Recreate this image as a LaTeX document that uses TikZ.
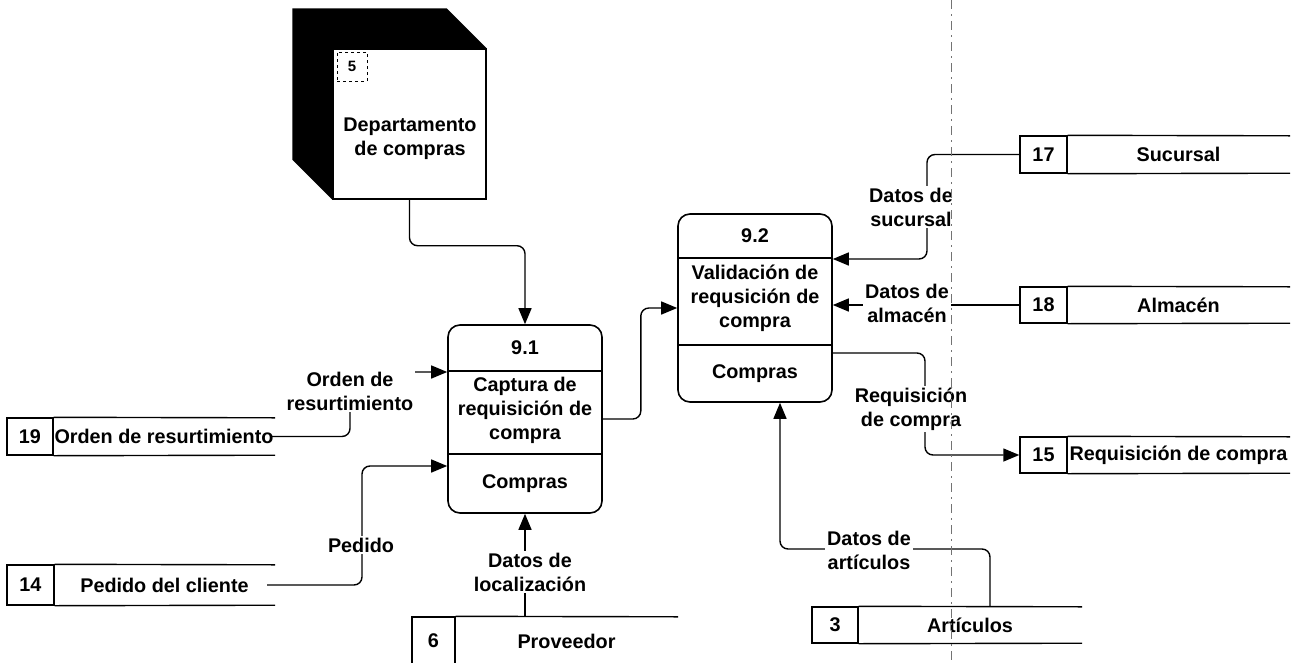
\documentclass[tikz,border=0pt]{standalone}
\usepackage{fontspec}
\setmainfont{Liberation Sans}
\usetikzlibrary{arrows.meta}
\newcommand{\dstore}[8]{%
  \node[numbox, minimum width={#3-#2}, minimum height={#6-#5}] (#1n) at ({(#2+#3)/2},{(#5+#6)/2}) {#7};
  \node[storetext, minimum width={#4-#3}, minimum height={#6-#5}] (#1t) at ({(#3+#4)/2},{(#5+#6)/2}) {#8};
  \draw[storeline] (#1n.north east) -- (#1t.north east) (#1n.south east) -- (#1t.south east);
}
\begin{document}
\begin{tikzpicture}[x=1pt,y=-1pt,
  every node/.style={font=\fontsize{19.8}{24}\selectfont\bfseries},
  proc/.style={draw, line width=1.6pt, rounded corners=12pt, minimum width=154pt, minimum height=188pt, inner sep=0pt},
  divline/.style={line width=1.4pt},
  flow/.style={line width=1.4pt, rounded corners=8pt, -{Triangle[length=16pt,width=13pt]}},
  lbl/.style={fill=white, align=center, inner sep=2pt},
  numbox/.style={draw, line width=1.4pt, inner sep=0pt},
  storetext/.style={inner sep=0pt},
  storeline/.style={line width=1.4pt},
  guide/.style={black!55, line width=0.9pt, dash pattern=on 9pt off 5pt on 2pt off 5pt}
]
\useasboundingbox (0,0) rectangle (1296,662);
\clip (0,0) rectangle (1296,662);

% external entity
\node[draw, fill=white, line width=1.4pt, minimum width=153pt, minimum height=150pt, inner sep=0pt] (ent) at (409.5,124) {};
\fill ([shift={(-40,-40)}]ent.north west) -- ([shift={(-40,-40)}]ent.north east) -- (ent.north east) -- (ent.north west) -- (ent.south west) -- ([shift={(-40,-40)}]ent.south west) -- cycle;
\node[draw, dashed, line width=1pt, minimum width=30pt, minimum height=29pt, inner sep=0pt, font=\fontsize{15}{18}\selectfont\bfseries] (five) at (352,66.5) {5};
\node[align=center] (enttext) at (410,139) {Departamento\\de compras};

% processes
\node[proc] (p91) at (525,419) {};
\draw[divline] (p91.west |- 0,371) -- (p91.east |- 0,371);
\draw[divline] (p91.west |- 0,454) -- (p91.east |- 0,454);
\node (p91id) at (525,348) {9.1};
\node[align=center] (p91name) at (525,410) {Captura de\\requisición de\\compra};
\node (p91loc) at (525,484) {Compras};

\node[proc] (p92) at (755,308) {};
\draw[divline] (p92.west |- 0,258) -- (p92.east |- 0,258);
\draw[divline] (p92.west |- 0,345) -- (p92.east |- 0,345);
\node (p92id) at (755,236) {9.2};
\node[align=center] (p92name) at (755,298) {Validación de\\requsición de\\compra};
\node (p92loc) at (755,374) {Compras};

% data stores
\dstore{s17}{1020}{1067}{1290}{136}{173}{17}{Sucursal}
\dstore{s18}{1020}{1067}{1290}{287}{323}{18}{Almacén}
\dstore{s15}{1020}{1067}{1290}{437}{473}{15}{Requisición de compra}
\dstore{s19}{7}{53}{275}{418}{455}{19}{Orden de resurtimiento}
\dstore{s14}{7}{54}{275}{565}{605}{14}{Pedido del cliente}
\dstore{s6}{412}{455}{678}{617}{665}{6}{Proveedor}
\dstore{s3}{812}{858}{1082}{607}{643}{3}{Artículos}

% flows
\draw[flow] (ent.south) -- ++(0,46) -| (p91.north);
\draw[flow] (p91.east) -- ++(38,0) |- (p92.west);
\draw[flow] (s17n.west) -- (927,154.5) -- (927,259) -- (p92.east |- 0,259);
\draw[flow] (s18n.west) -- (p92.east |- s18n.west);
\draw[flow] (p92.east |- 0,353) -- (925,353) -- (925,455) -- (s15n.west);
\draw[flow] (990,0 |- s3t.north) -- (990,549) -- (780,549) -- (780,0 |- p92.south);
\draw[flow] (p91.south |- s6t.north) -- (p91.south);
\draw[flow] ([xshift=-8pt]s14t.east) -- (362,585) -- (362,466) -- (p91.west |- 0,466);
\draw[flow] ([xshift=-3pt]s19t.east) -- (350,436.5) -- (350,372) -- (p91.west |- 0,372);

% labels
\node[lbl] (l17) at (911,207) {Datos de\\sucursal};
\node[lbl] (l18) at (907,303) {Datos de\\almacén};
\node[lbl] (l15) at (911,409) {Requisición\\de compra};
\node[lbl] (l3) at (869,550) {Datos de\\artículos};
\node[lbl] (l6) at (530,572) {Datos de\\localización};
\node[lbl] (l14) at (361,545) {Pedido};
\node[lbl] (l19) at (350,391) {Orden de\\resurtimiento};

% guide line
\coordinate (gt) at (951,0);
\coordinate (gb) at (951,662);
\draw[guide] (gt) -- (gb);
\end{tikzpicture}
\end{document}
